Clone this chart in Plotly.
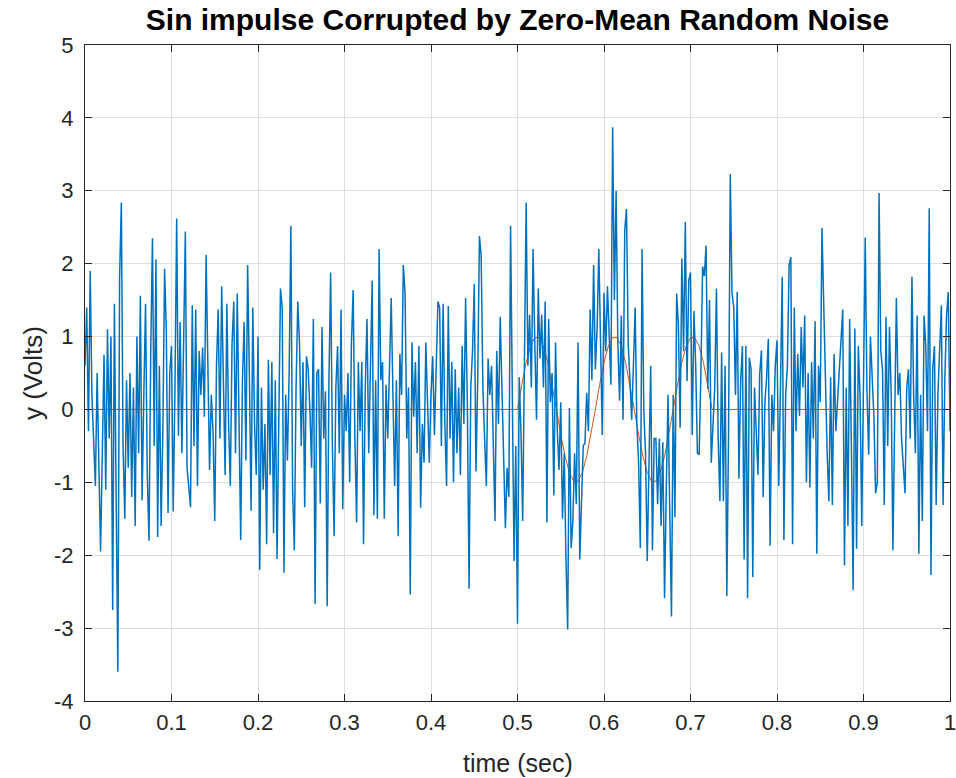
import numpy as np
import plotly.graph_objects as go

# Noisy measurement, sampled every 2 ms from 0 to 1 s
dt = 0.002
noisy = [
    # 0.000 s
    0.6, 1.4, -0.3, 1.9, 0.2, -0.4, -1.05, 0.5, -0.6, -1.95,
    -0.6, 0.75, -1.1, 1.1, -0.4, 1.0, -2.75, 1.45, -1.2, -3.6,
    1.8, 2.84, -0.5, -1.5, 0.4, -0.8, 0.5, -1.2, 0.3, -1.6,
    1.0, -0.6, 1.56, -1.25, 0.2, 1.45, -0.9, -1.8, 0.8, 2.35,
    -0.5, 2.06, -1.75, 0.6, -1.6, -0.3, 1.93, 1.08, -1.42, 0.5,
    # 0.100 s
    0.87, -1.4, 0.3, 2.62, -0.36, 1.2, -0.6, 0.9, 2.44, -0.8,
    -1.1, -1.34, 1.43, -0.5, 1.37, -1.05, 0.8, 0.2, 0.85, -0.1,
    2.12, 0.9, -0.83, 0.2, -0.3, -1.53, 0.6, 1.37, -0.4, 1.69,
    0.3, -0.9, 1.45, -0.2, -1.05, 0.9, 1.48, -0.6, 1.59, -0.3,
    -1.79, 0.4, 1.2, -0.7, 1.98, 0.5, -1.39, 1.4, -0.2, -0.9,
    # 0.200 s
    1.0, -2.2, 0.3, -1.1, -0.2, -1.85, 0.68, -0.9, 0.65, -1.7,
    0.4, -2.05, 0.2, 1.66, 1.4, -2.24, 0.2, -0.7, 0.5, 2.52,
    -1.1, -1.93, 0.3, 1.48, 0.9, -0.5, 0.65, -1.34, 0.73, 0.55,
    0.0, -0.8, 1.24, -2.67, 0.5, 0.55, -1.29, 1.13, -0.4, 0.25,
    -2.7, 0.4, 1.88, -0.5, -1.74, 0.3, 0.87, -0.6, 1.37, -1.37,
    # 0.300 s
    0.2, -0.3, 0.5, -1.0, 0.9, 1.64, -0.4, -1.55, 0.65, -0.3,
    0.65, -1.85, 0.3, 1.24, -0.6, 0.65, 1.77, -1.45, 0.4, -1.5,
    2.2, 0.4, 0.65, -1.5, 0.34, -0.4, 0.6, 1.53, 0.2, -1.05,
    0.4, -1.74, 0.76, 0.2, 1.98, 1.6, -0.4, 0.3, -2.54, 0.92,
    -0.1, 0.65, -0.6, 0.87, -1.35, -0.2, -0.73, 0.92, 0.1, -0.73,
    # 0.400 s
    0.2, 0.73, -0.35, 0.5, 1.48, 1.4, -0.5, 1.45, -0.2, -1.05,
    1.42, -0.4, 0.65, -1.0, 0.55, -0.6, 0.3, -0.9, 0.87, -0.2,
    1.53, 0.1, -2.46, 0.3, 0.8, 1.72, -0.85, 0.4, 2.38, 2.1,
    0.3, -0.4, -1.05, 0.7, 0.2, 0.6, -0.3, -1.53, 0.8, -0.2,
    1.27, 0.2, -1.0, -1.63, -0.8, -1.2, 2.52, 0.3, -2.08, -0.5,
    # 0.500 s
    -2.94, 0.44, -0.3, -1.53, 0.9, 2.84, 0.6, 1.3, 0.3, 2.2,
    0.9, -0.14, 1.66, 0.7, 1.3, 0.3, 1.48, -1.55, 1.24, 0.1,
    0.5, -1.18, 0.92, -0.3, -0.83, 0.1, -1.5, -0.6, -2.03, -3.02,
    0.02, -1.9, -1.53, -0.6, -1.3, 0.92, -2.06, -1.37, -0.5, -0.46,
    0.23, -0.3, 1.37, 0.4, 1.98, 0.55, 1.1, 2.2, 0.9, -0.35,
    # 0.600 s
    1.6, 0.8, 1.69, 1.1, 0.34, 3.87, 1.5, 3.0, 0.9, 0.12,
    1.29, -0.14, 2.46, 2.75, 0.9, 0.4, -0.14, 0.6, 1.4, -0.2,
    -0.73, -1.9, 2.2, 0.0, -0.6, -2.08, -0.5, 0.6, -1.93, -0.4,
    -0.4, -1.3, -0.4, -1.6, -0.45, -2.59, -1.1, 0.2, -1.4, -2.84,
    0.2, -1.48, 1.59, 1.16, -0.25, 2.07, 0.8, 2.57, 0.39, 1.77,
    # 0.700 s
    1.88, -0.35, 1.35, 0.6, -0.6, -0.62, 0.5, 1.96, 1.83, 2.25,
    0.28, 1.5, -0.73, -0.09, 0.3, 1.66, -0.4, -1.26, 0.78, -1.26,
    0.6, -2.56, -0.3, 3.23, 1.6, 1.4, 0.2, 1.61, -0.95, 0.39,
    0.87, -2.06, 0.87, -2.59, 0.71, 0.55, -2.3, 0.3, -0.41, -0.9,
    0.49, 0.81, -1.2, 0.1, 0.44, 0.97, -1.87, 0.2, -0.3, 0.6,
    # 0.800 s
    0.95, -1.05, 0.3, 1.82, -1.79, 0.2, 0.6, 1.98, 2.09, -1.85,
    1.4, -0.3, 0.76, -0.09, 1.13, 0.3, 1.29, -1.0, 0.5, -1.07,
    0.65, -0.4, 1.21, -1.98, 0.6, 0.1, 2.49, 1.5, 0.23, -0.6,
    -1.26, 0.44, -1.31, 0.76, -0.3, 0.12, 0.5, 1.08, 1.37, -2.14,
    0.3, -1.6, 1.24, -0.5, -2.48, 1.11, -1.91, 0.87, 0.2, -1.6,
    # 0.900 s
    0.4, 2.36, 0.23, -0.62, 1.0, 0.5, -0.09, -1.15, -1.0, 2.97,
    0.8, 0.55, -1.31, 1.27, -0.5, 1.13, 0.23, -1.93, 0.12, 1.53,
    0.2, 0.5, -0.4, -0.8, -1.15, 0.3, 0.55, -0.4, 1.82, 0.18,
    -0.6, 1.29, -1.98, 0.2, -1.53, 1.29, 0.87, -0.3, 2.76, -2.27,
    0.55, 0.87, -1.31, 0.2, 0.97, 1.43, -1.31, 0.4, 1.29, 1.61,
    # 1.000 s
    -0.3,
]
t_noisy = np.arange(len(noisy)) * dt

# Clean sine impulse (zero outside the 0.5 s - 0.725 s window), 5 ms steps
impulse_t = [0.0] + list(np.round(0.5 + 0.005 * np.arange(46), 3)) + [1.0]
impulse_y = (
    [0.0]
    + [0.0, 0.342, 0.643, 0.866, 0.985, 0.985, 0.866, 0.643, 0.342,
       0.0, -0.342, -0.643, -0.866, -0.985, -0.985, -0.866, -0.643, -0.342]
    + [0.0, 0.342, 0.643, 0.866, 0.985, 0.985, 0.866, 0.643, 0.342,
       0.0, -0.342, -0.643, -0.866, -0.985, -0.985, -0.866, -0.643, -0.342]
    + [0.0, 0.342, 0.643, 0.866, 0.985, 0.985, 0.866, 0.643, 0.342, 0.0]
    + [0.0]
)

x_ticks = [0, 0.1, 0.2, 0.3, 0.4, 0.5, 0.6, 0.7, 0.8, 0.9, 1]
x_labels = ["0", "0.1", "0.2", "0.3", "0.4", "0.5", "0.6", "0.7", "0.8", "0.9", "1"]
y_ticks = [-4, -3, -2, -1, 0, 1, 2, 3, 4, 5]
y_labels = ["-4", "-3", "-2", "-1", "0", "1", "2", "3", "4", "5"]

title_text = "Sin impulse Corrupted by Zero-Mean Random Noise"
x_title = "time (sec)"
y_title = "y (Volts)"

AX = "#262626"
GRID = "#dfdfdf"
FONT = "Liberation Sans, Arial, Helvetica, sans-serif"

fig = go.Figure()
# clean impulse first, noisy trace drawn over it
fig.add_trace(go.Scatter(
    x=impulse_t, y=impulse_y, mode="lines",
    line=dict(color="#D95319", width=1),
    hoverinfo="skip", showlegend=False,
))
fig.add_trace(go.Scatter(
    x=t_noisy, y=noisy, mode="lines",
    line=dict(color="#0072BD", width=1.5),
    hoverinfo="skip", showlegend=False,
))

axis_common = dict(
    showline=True, linecolor=AX, linewidth=1, mirror="ticks",
    ticks="inside", ticklen=7, tickwidth=1, tickcolor=AX,
    showgrid=True, gridcolor=GRID, gridwidth=1,
    zeroline=False, automargin=False, ticklabeloverflow="allow",
    tickfont=dict(family=FONT, size=22, color=AX),
)

fig.update_xaxes(range=[0, 1], tickvals=x_ticks, ticktext=x_labels,
                 ticklabelstandoff=2, **axis_common)
fig.update_yaxes(range=[-4, 5], tickvals=y_ticks, ticktext=y_labels,
                 ticklabelstandoff=6, **axis_common)

fig.update_layout(
    width=956, height=778,
    margin=dict(l=85, r=6, t=45, b=77),
    paper_bgcolor="white", plot_bgcolor="white",
    font=dict(family=FONT, color=AX),
    title=dict(
        text="<b>" + title_text + "</b>",
        x=0.5, xref="paper", y=1 - 19 / 778, yref="container",
        xanchor="center", yanchor="middle",
        font=dict(family=FONT, size=30, color="#000000"),
    ),
    annotations=[
        dict(text=x_title, x=0.5, y=-62 / 656, xref="paper", yref="paper",
             xanchor="center", yanchor="middle", showarrow=False,
             font=dict(family=FONT, size=25, color=AX)),
        dict(text=y_title, x=-52 / 865, y=0.5, xref="paper", yref="paper",
             xanchor="center", yanchor="middle", showarrow=False, textangle=-90,
             font=dict(family=FONT, size=26, color=AX)),
    ],
)

fig.write_html("out.html")
